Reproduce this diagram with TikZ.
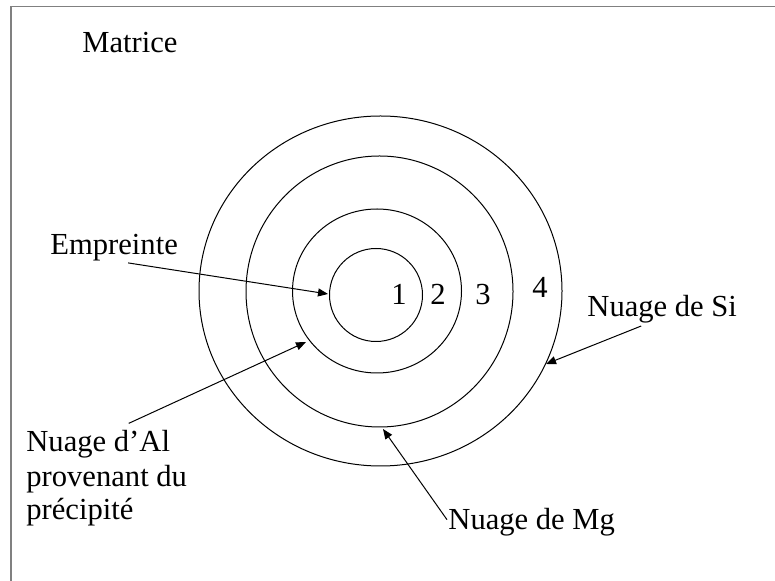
\documentclass[tikz,border=0pt]{standalone}
\usepackage{fontspec}
\setmainfont{Liberation Serif}
\usetikzlibrary{arrows.meta,calc}

\begin{document}
\begin{tikzpicture}[
  x=0.5pt,y=-0.5pt,
  ring/.style={draw,line width=0.5pt},
  arr/.style={-{Triangle[length=5pt,width=4pt]},line width=0.5pt},
  lbl/.style={inner sep=0pt,anchor=base west,align=left,
              font=\fontsize{15.3}{17}\selectfont},
  num/.style={inner sep=0pt,anchor=base,font=\fontsize{15.3}{17}\selectfont}]
\useasboundingbox (0,0) rectangle (775,581);
% cadre
\draw[gray,line width=0.8pt] (11,581) -- (11,6.7) -- (775,6.7);
% zones autour de l'empreinte
\draw[ring] (376,295) circle [radius=46.5];
\draw[ring] (377,291) ellipse [x radius=84.5,y radius=82];
\draw[ring] (379.5,291.5) ellipse [x radius=133.5,y radius=135.5];
\draw[ring] (380.5,291) ellipse [x radius=181.5,y radius=175];
\node[num] (z1) at (399,305) {1};
\node[num] (z2) at (438,305) {2};
\node[num] (z3) at (483,305) {3};
\node[num] (z4) at (540,298) {4};
% textes
\node[lbl] (matrice) at (82,53) {Matrice};
\node[lbl] (empreinte) at (50,255) {Empreinte};
\node[lbl] (al) at (26,520) {Nuage d’Al\\provenant du\\précipité};
\node[lbl] (si) at (587,317) {Nuage de Si};
\node[lbl] (mg) at (448,530) {Nuage de Mg};
% pointes sur les cercles
\coordinate (tipE) at (328,294);
\coordinate (tipAl) at (306,342);
\coordinate (tipSi) at (546,364);
\coordinate (tipMg) at (383,429);
\draw[arr] ($(empreinte.south)+(14,1)$) -- (tipE);
\draw[arr] ($(al.north)+(22,-7)$) -- (tipAl);
\draw[arr] ($(si.south)+(-21,2)$) -- (tipSi);
\draw[arr] ($(mg.west)+(-1,-3)$) -- (tipMg);
\end{tikzpicture}
\end{document}
